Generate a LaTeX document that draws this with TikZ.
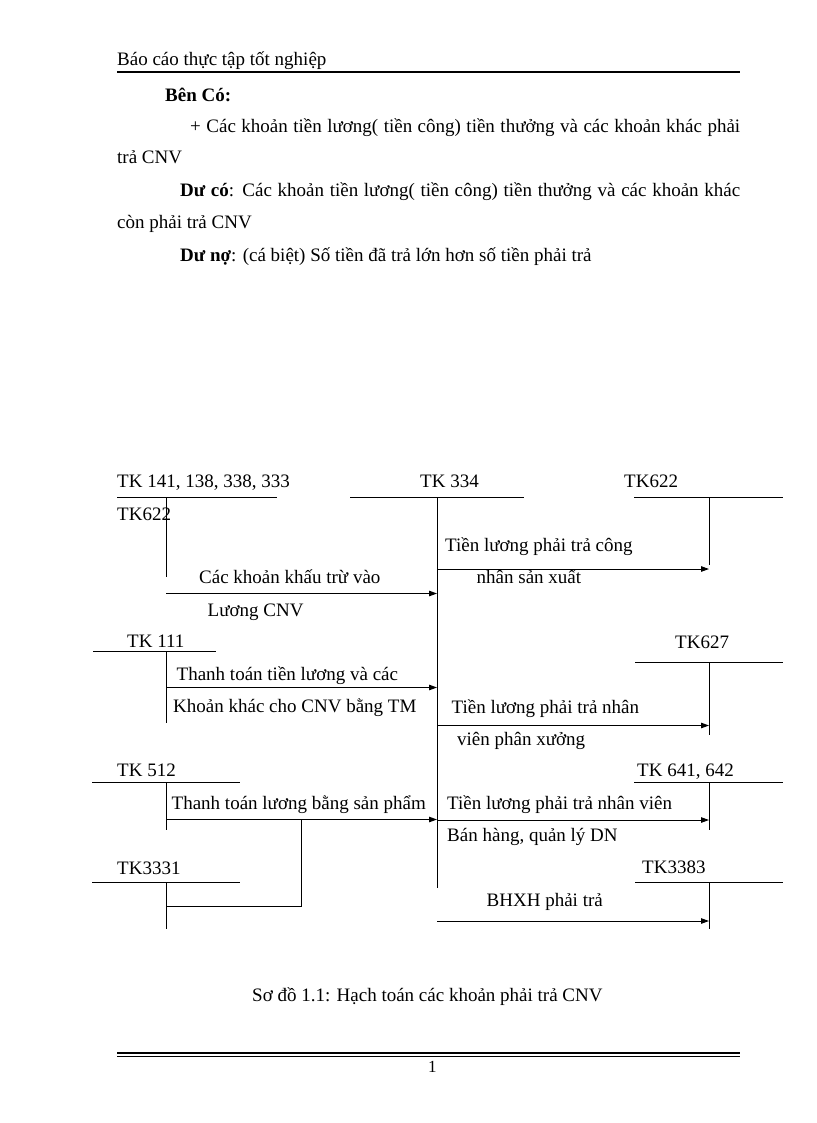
\documentclass[tikz,border=0pt]{standalone}
\usepackage{fontspec}
\setmainfont{Liberation Serif}
\usetikzlibrary{arrows.meta}
\begin{document}
\begin{tikzpicture}[x=1pt,y=-1pt,
  txt/.style={anchor=base west,inner sep=0pt,font=\fontsize{19}{22}\selectfont},
  acc/.style={line width=1pt},
  rule/.style={line width=1.6pt},
  flow/.style={line width=1pt,-{Triangle[length=8pt,width=5.5pt]}}]
\useasboundingbox[fill=white] (0,0) rectangle (816,1123);

% ---------- header ----------
\node[txt] (hdr) at (117,66) {Báo cáo thực tập tốt nghiệp};
\coordinate (hl) at (117,72); \coordinate (hr) at (740,72);
\draw[rule] (hl) -- (hr);

% ---------- text ----------
\node[txt] (bc) at (165,102) {\bfseries Bên Có:};
\node[txt] (p1) at (190,133) {\makebox[550pt][s]{+ Các khoản tiền lương( tiền công) tiền thưởng và các khoản khác phải}};
\node[txt] (p1b) at (117,163.5) {trả CNV};
\node[txt] (p2) at (180,196.5) {\makebox[560pt][s]{\textbf{Dư có}: Các khoản tiền lương( tiền công) tiền thưởng và các khoản khác}};
\node[txt] (p2b) at (117,228.5) {còn phải trả CNV};
\node[txt] (p3) at (180,261.5) {\textbf{Dư nợ}: (cá biệt) Số tiền đã trả lớn hơn số tiền phải trả};

% ---------- account labels ----------
\node[txt] (l141) at (117,487) {TK 141, 138, 338, 333};
\node[txt] (l622a) at (117,520) {TK622};
\node[txt] (l334) at (420,487) {TK 334};
\node[txt] (l622) at (624,487) {TK622};
\node[txt] (l111) at (127,647.5) {TK 111};
\node[txt] (l627) at (675,648) {TK627};
\node[txt] (l512) at (117,776.5) {TK 512};
\node[txt] (l641) at (637,776.5) {TK 641, 642};
\node[txt] (l3331) at (117,874) {TK3331};
\node[txt] (l3383) at (642,873.5) {TK3383};

% ---------- T-account coordinates ----------
\coordinate (a141l) at (117,497.5); \coordinate (a141r) at (277,497.5);
\coordinate (a141t) at (166,497.5); \coordinate (a141b) at (166,577);
\coordinate (a334l) at (350,497.5); \coordinate (a334r) at (524,497.5);
\coordinate (a334t) at (437,497.5); \coordinate (a334b) at (437,888);
\coordinate (a622l) at (634,497.5); \coordinate (a622r) at (783,497.5);
\coordinate (a622t) at (709,497.5); \coordinate (a622b) at (709,565);
\coordinate (a111l) at (93,651);    \coordinate (a111r) at (216,651);
\coordinate (a111t) at (166,651);   \coordinate (a111b) at (166,723);
\coordinate (a627l) at (635,662.5); \coordinate (a627r) at (783,662.5);
\coordinate (a627t) at (709,662.5); \coordinate (a627b) at (709,735);
\coordinate (a512l) at (92,782.5);  \coordinate (a512r) at (240,782.5);
\coordinate (a512t) at (166,782.5); \coordinate (a512b) at (166,830);
\coordinate (a641l) at (634,782.5); \coordinate (a641r) at (783,782.5);
\coordinate (a641t) at (709,782.5); \coordinate (a641b) at (709,830);
\coordinate (a3331l) at (92,882.5); \coordinate (a3331r) at (240,882.5);
\coordinate (a3331t) at (166,882.5); \coordinate (a3331b) at (166,929);
\coordinate (a3383l) at (635,882.5); \coordinate (a3383r) at (783,882.5);
\coordinate (a3383t) at (709,882.5); \coordinate (a3383b) at (709,929);

\foreach \a in {141,334,622,111,627,512,641,3331,3383}{
  \draw[acc] (a\a l) -- (a\a r);
  \draw[acc] (a\a t) -- (a\a b);
}

% ---------- flows ----------
\coordinate (f1s) at (166,593.5); \coordinate (f1e) at (437,593.5);
\coordinate (f2s) at (437,569);   \coordinate (f2e) at (709,569);
\coordinate (f3s) at (166,687.5); \coordinate (f3e) at (437,687.5);
\coordinate (f4s) at (437,725.5); \coordinate (f4e) at (709,725.5);
\coordinate (f5s) at (166,819.5); \coordinate (f5e) at (437,819.5);
\coordinate (f6s) at (437,820);   \coordinate (f6e) at (709,820);
\coordinate (f7s) at (437,921);   \coordinate (f7e) at (709,921);
\coordinate (j1) at (166,906); \coordinate (j2) at (301.5,906); \coordinate (j3) at (301.5,819.5);

\draw[flow] (f1s) -- (f1e);
\draw[flow] (f2s) -- (f2e);
\draw[flow] (f3s) -- (f3e);
\draw[flow] (f4s) -- (f4e);
\draw[flow] (f5s) -- (f5e);
\draw[flow] (f6s) -- (f6e);
\draw[flow] (f7s) -- (f7e);
\draw[acc] (j1) -- (j2) -- (j3);

% ---------- flow labels ----------
\node[txt] (t1a) at (199,583) {Các khoản khấu trừ vào};
\node[txt] (t1b) at (207.5,616) {Lương CNV};
\node[txt] (t2a) at (445,551.5) {Tiền lương phải trả công};
\node[txt] (t2b) at (476.5,583) {nhân sản xuất};
\node[txt] (t3a) at (176.5,680) {Thanh toán tiền lương và các};
\node[txt] (t3b) at (173,712.5) {Khoản khác cho CNV bằng TM};
\node[txt] (t4a) at (451.5,713) {Tiền lương phải trả nhân};
\node[txt] (t4b) at (457,745) {viên phân xưởng};
\node[txt] (t5) at (171.5,809.5) {Thanh toán lương bằng sản phẩm};
\node[txt] (t6a) at (447,809.5) {Tiền lương phải trả nhân viên};
\node[txt] (t6b) at (447,841.5) {Bán hàng, quản lý DN};
\node[txt] (t7) at (486.5,906) {BHXH phải trả};

% ---------- caption & footer ----------
\node[txt] (cap) at (252,1001.5) {Sơ đồ 1.1: Hạch toán các khoản phải trả CNV};
\coordinate (d1l) at (117,1053); \coordinate (d1r) at (740,1053);
\coordinate (d2l) at (117,1056.5); \coordinate (d2r) at (740,1056.5);
\draw[line width=1.2pt] (d1l) -- (d1r);
\draw[line width=1.2pt] (d2l) -- (d2r);
\node[txt,font=\fontsize{17}{20}\selectfont] (pg) at (428,1072) {1};
\end{tikzpicture}
\end{document}
